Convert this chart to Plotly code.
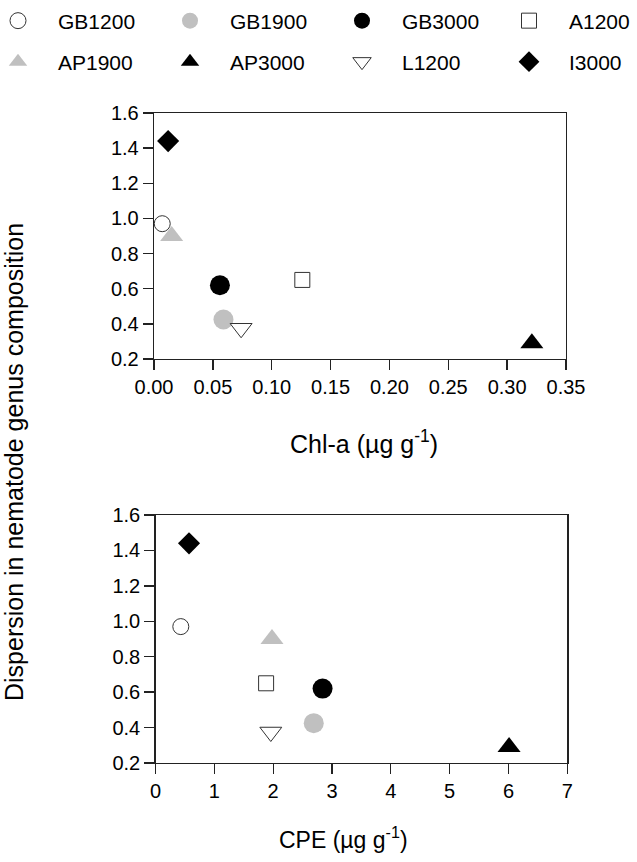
import plotly.graph_objects as go

W, H = 637, 862

sites = ["GB1200", "GB1900", "GB3000", "A1200", "AP1900", "AP3000", "L1200", "I3000"]
chla = [0.007, 0.059, 0.056, 0.126, 0.015, 0.321, 0.074, 0.012]
cpe = [0.43, 2.69, 2.84, 1.88, 1.98, 6.01, 1.96, 0.57]
dispersion = [0.97, 0.425, 0.62, 0.65, 0.90, 0.29, 0.375, 1.44]

chla_ticks = [0.00, 0.05, 0.10, 0.15, 0.20, 0.25, 0.30, 0.35]
cpe_ticks = [0, 1, 2, 3, 4, 5, 6, 7]
y_ticks = [0.2, 0.4, 0.6, 0.8, 1.0, 1.2, 1.4, 1.6]

EDGE = "#333333"
GREY = "#c0c0c0"
styles = {
    "GB1200": dict(symbol="circle", color="white", size=16, line=dict(color=EDGE, width=1)),
    "GB1900": dict(symbol="circle", color=GREY, size=20, line=dict(color=GREY, width=0)),
    "GB3000": dict(symbol="circle", color="black", size=20, line=dict(color="black", width=0)),
    "A1200": dict(symbol="square", color="white", size=15, line=dict(color=EDGE, width=1)),
    "AP1900": dict(symbol="triangle-up", color=GREY, size=20, line=dict(color=GREY, width=0)),
    "AP3000": dict(symbol="triangle-up", color="black", size=20, line=dict(color="black", width=0)),
    "L1200": dict(symbol="triangle-down", color="white", size=19, line=dict(color=EDGE, width=1)),
    "I3000": dict(symbol="diamond", color="black", size=17, line=dict(color="black", width=0)),
}

# legend key layout (pixel centres of the key symbols)
legend_sym_x = [18, 190, 362, 529, 18, 190, 362, 529]
legend_row_y = [21, 21, 21, 21, 62, 62, 62, 62]
SYM_OFFSET = 40  # symbol centre relative to legend box left

FONT = "Liberation Sans, Arial, sans-serif"
fig = go.Figure()

for i, s in enumerate(sites):
    st = styles[s]
    leg = "legend" if i == 0 else f"legend{i + 1}"
    fig.add_trace(go.Scatter(
        x=[chla[i]], y=[dispersion[i]], mode="markers", name=s,
        marker=st, xaxis="x", yaxis="y", showlegend=True, legend=leg,
        cliponaxis=False, hoverinfo="skip"))
    fig.add_trace(go.Scatter(
        x=[cpe[i]], y=[dispersion[i]], mode="markers", name=s,
        marker=st, xaxis="x2", yaxis="y2", showlegend=False,
        cliponaxis=False, hoverinfo="skip"))

axis_common = dict(
    showgrid=False, zeroline=False, showline=True, linecolor="#222222", linewidth=1.3,
    mirror=True, ticks="outside", ticklen=10, tickwidth=1.3, tickcolor="#222222",
    tickfont=dict(family=FONT, size=20, color="black"),
)

def px_x(p):
    return p / W

def px_y(p):
    return 1 - p / H

legends = {}
for i in range(8):
    key = "legend" if i == 0 else f"legend{i + 1}"
    legends[key] = dict(
        orientation="v", x=px_x(legend_sym_x[i] - SYM_OFFSET), xanchor="left",
        y=px_y(legend_row_y[i]), yanchor="middle", itemwidth=70,
        font=dict(family=FONT, size=21, color="black"), bgcolor="rgba(0,0,0,0)",
        borderwidth=0)

fig.update_layout(
    width=W, height=H,
    margin=dict(l=0, r=0, t=0, b=0, autoexpand=False),
    paper_bgcolor="white", plot_bgcolor="white",
    font=dict(family=FONT, color="black"),
    xaxis=dict(domain=[px_x(154), px_x(566)], range=[0, 0.35], tickvals=chla_ticks,
               tickformat=".2f", anchor="y", **axis_common),
    yaxis=dict(domain=[px_y(359), px_y(113)], range=[0.2, 1.6], tickvals=y_ticks,
               tickformat=".1f", anchor="x", **axis_common),
    xaxis2=dict(domain=[px_x(155.5), px_x(567.3)], range=[0, 7], tickvals=cpe_ticks,
                anchor="y2", **axis_common),
    yaxis2=dict(domain=[px_y(763), px_y(515)], range=[0.2, 1.6], tickvals=y_ticks,
                tickformat=".1f", anchor="x2", **axis_common),
    annotations=[
        dict(text="Chl-a (µg g<sup>-1</sup>)", xref="paper", yref="paper",
             x=px_x(364), y=px_y(442), xanchor="center", yanchor="middle", showarrow=False,
             font=dict(family=FONT, size=25, color="black")),
        dict(text="CPE (µg g<sup>-1</sup>)", xref="paper", yref="paper",
             x=px_x(343), y=px_y(838), xanchor="center", yanchor="middle", showarrow=False,
             font=dict(family=FONT, size=23, color="black")),
        dict(text="Dispersion in nematode genus composition", xref="paper", yref="paper",
             x=px_x(14), y=px_y(462), xanchor="center", yanchor="middle", showarrow=False,
             textangle=-90, font=dict(family=FONT, size=25, color="black")),
    ],
    **legends,
)

fig.write_html("out.html", config={"displayModeBar": False, "staticPlot": True},
               post_script="document.body.style.margin='0px';")
